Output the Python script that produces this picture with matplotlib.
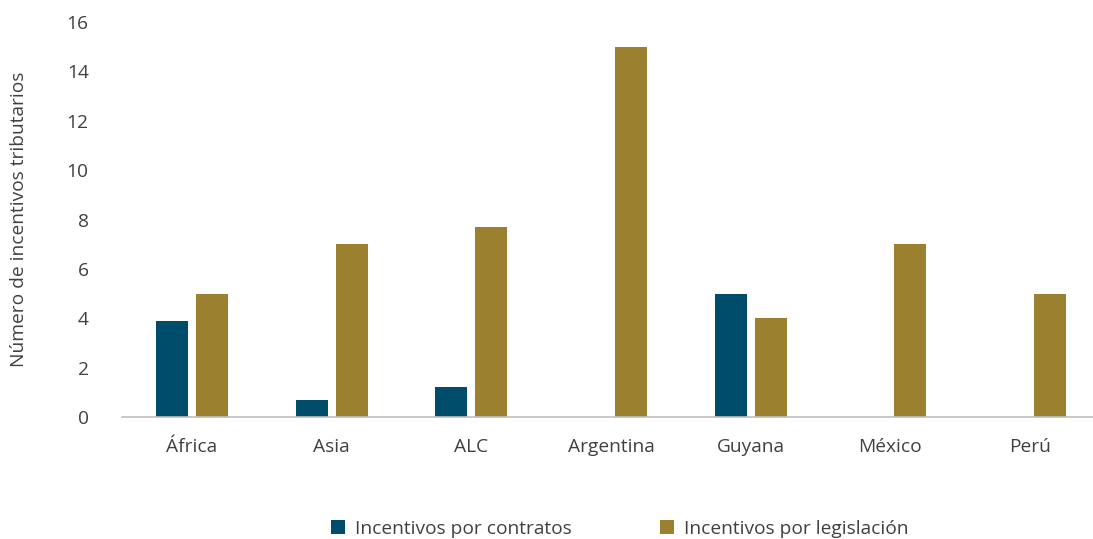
import matplotlib
matplotlib.use("Agg")
import matplotlib.pyplot as plt
import numpy as np

categories = ["África", "Asia", "ALC", "Argentina", "Guyana", "México", "Perú"]
contratos = [3.9, 0.7, 1.2, 0, 5, 0, 0]
legislacion = [5, 7, 7.7, 15, 4, 7, 5]
yticks = [0, 2, 4, 6, 8, 10, 12, 14, 16]

blue = "#004D6B"
gold = "#9B812F"
text_color = "#404040"

plt.rcParams["font.family"] = ["Open Sans", "DejaVu Sans"]
fs = 13.8

fig = plt.figure(figsize=(10.93, 5.39), dpi=100)
ax = fig.add_axes([0.1116, 0.2263, 0.8884, 0.7328])

x = np.arange(len(categories))
w = 0.229
off = 0.143
ax.bar(x - off, contratos, width=w, color=blue, label="Incentivos por contratos")
ax.bar(x + off, legislacion, width=w, color=gold, label="Incentivos por legislación")

ax.set_xlim(-0.5, 6.45)
ax.set_ylim(0, 16)
ax.set_yticks(yticks)
ax.set_xticks(x)
ax.set_xticklabels(categories)

for s in ["top", "right", "left"]:
    ax.spines[s].set_visible(False)
ax.spines["bottom"].set_color("#BFBFBF")
ax.spines["bottom"].set_linewidth(1.2)
ax.tick_params(axis="both", length=0, labelsize=fs, colors=text_color)
ax.tick_params(axis="x", pad=15)
ax.tick_params(axis="y", pad=24)

ax.set_ylabel("Número de incentivos tributarios", fontsize=fs, color=text_color, labelpad=28)

leg = fig.legend(loc="lower center", bbox_to_anchor=(0.567, -0.03), ncol=2, frameon=False,
                 fontsize=fs, handlelength=0.75, handleheight=0.75, columnspacing=4.6,
                 handletextpad=0.5)
for t in leg.get_texts():
    t.set_color(text_color)

fig.savefig("out.png", dpi=100)
